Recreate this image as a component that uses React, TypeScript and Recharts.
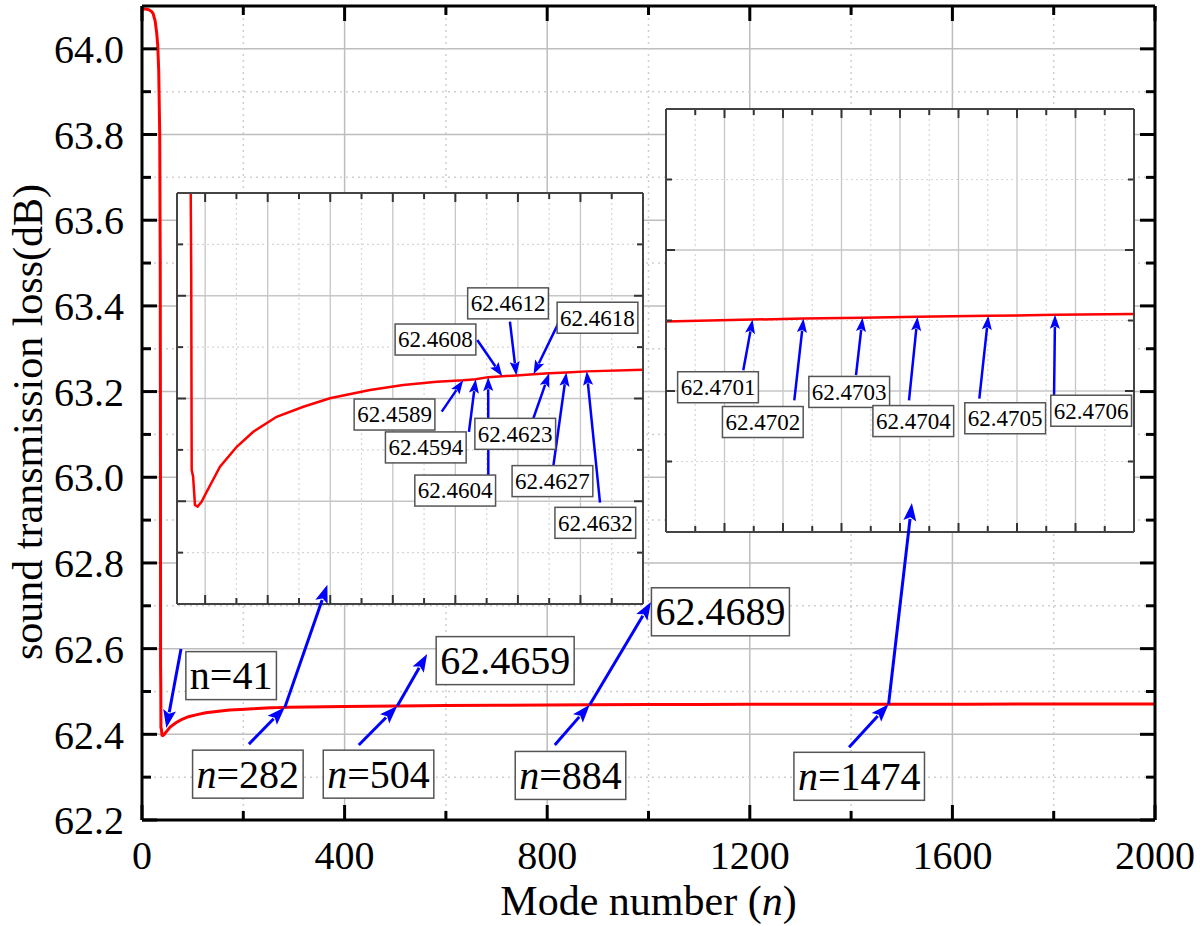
import React from 'react';
import { LineChart, Line, XAxis, YAxis, CartesianGrid, ReferenceLine, ReferenceDot } from 'recharts';

const SERIF = 'Liberation Serif, DejaVu Serif, serif';

// mode number n and sound transmission loss (dB)
const modeNumber = [
  1, 8, 14, 19, 22, 26, 29, 31, 33, 35, 36, 36.5, 36.7, 37.1, 37.4, 38.3, 39.5, 41.2, 43.8, 47,
  55.5, 66.2, 76.8, 91.7, 108.8, 125.8, 151.4, 172.7, 194.1, 211, 219, 227, 236, 245, 256, 266,
  277, 290, 326, 400, 504, 600, 700, 800, 884, 1000, 1100, 1200, 1348, 1435, 1536, 1630, 1751,
  1865, 2000,
];
const transmissionLoss = [
  64.093, 64.093, 64.091, 64.087, 64.082, 64.065, 64.037, 64.01, 63.95, 63.8, 63.5, 63.0, 62.56,
  62.51, 62.4152, 62.412, 62.3982, 62.3974, 62.3998, 62.4046, 62.4168, 62.4265, 62.4338, 62.4411,
  62.446, 62.4501, 62.4541, 62.4566, 62.4582, 62.4589, 62.4594, 62.4604, 62.4608, 62.4612,
  62.4618, 62.4623, 62.4627, 62.4632, 62.464, 62.4649, 62.4659, 62.467, 62.4678, 62.4684,
  62.4689, 62.4694, 62.4697, 62.4699, 62.4701, 62.4702, 62.4703, 62.4704, 62.4705, 62.4706,
  62.4707,
];
const curve = modeNumber.map((n, i) => ({ n, loss: transmissionLoss[i] }));

// main axes
const xTicks = [0, 400, 800, 1200, 1600, 2000];
const xMinorTicks = [200, 600, 1000, 1400, 1800];
const yTicks = [62.2, 62.4, 62.6, 62.8, 63.0, 63.2, 63.4, 63.6, 63.8, 64.0];
const yMinorTicks = [62.3, 62.5, 62.7, 62.9, 63.1, 63.3, 63.5, 63.7, 63.9];

// left inset (zoom on the dip)
const leftXDomain = [28, 326];
const leftYDomain = [62.35, 62.55];
const leftXTicks = [46, 86, 126, 166, 206, 246, 286];
const leftXMinor = [66, 106, 146, 186, 226, 266, 306];
const leftYTicks = [62.4, 62.45, 62.5];
const leftYMinor = [62.375, 62.425, 62.475, 62.525];

// right inset (zoom on the tail)
const rightXDomain = [1200, 2000];
const rightYDomain = [62.4475, 62.4925];
const rightXTicks = [1300, 1400, 1500, 1600, 1700, 1800, 1900];
const rightXMinor = [1250, 1350, 1450, 1550, 1650, 1750, 1850, 1950];
const rightYTicks = [62.4625, 62.4775];
const rightYMinor = [62.455, 62.47, 62.485];

// annotations, in data units
const mainBoxes = [
  { text: 'n=41', n: 176, v: 62.537, italic: false },
  { text: 'n=282', n: 209, v: 62.307, italic: true },
  { text: 'n=504', n: 467, v: 62.307, italic: true },
  { text: 'n=884', n: 846, v: 62.304, italic: true },
  { text: 'n=1474', n: 1416, v: 62.302, italic: true },
  { text: '62.4659', n: 717, v: 62.572, italic: false },
  { text: '62.4689', n: 1142, v: 62.686, italic: false },
];
const mainArrows = [
  { from: [77, 62.599], to: [48, 62.415] },
  { from: [211, 62.377], to: [282, 62.4629] },
  { from: [282, 62.4629], to: [366, 62.749] },
  { from: [428, 62.375], to: [504, 62.4659] },
  { from: [504, 62.4659], to: [563, 62.5875] },
  { from: [815, 62.375], to: [884, 62.4689] },
  { from: [884, 62.4689], to: [1005, 62.709] },
  { from: [1396, 62.37], to: [1474, 62.4702] },
  { from: [1474, 62.4702], to: [1520, 62.94] },
];

const leftBoxes = [
  { text: '62.4612', n: 239.7, v: 62.4963 },
  { text: '62.4618', n: 296.9, v: 62.4893 },
  { text: '62.4608', n: 193.3, v: 62.4787 },
  { text: '62.4589', n: 167.1, v: 62.4422 },
  { text: '62.4594', n: 187.1, v: 62.4262 },
  { text: '62.4623', n: 244.3, v: 62.4328 },
  { text: '62.4604', n: 205.9, v: 62.4052 },
  { text: '62.4627', n: 268.1, v: 62.4098 },
  { text: '62.4632', n: 295.5, v: 62.3895 },
];
const leftArrows = [
  { from: [220.0, 62.4785], to: [236, 62.4608] },
  { from: [240.9, 62.4874], to: [245, 62.4612] },
  { from: [273.4, 62.489], to: [256, 62.4618] },
  { from: [197.3, 62.4436], to: [211, 62.4589] },
  { from: [214.7, 62.4338], to: [219, 62.4594] },
  { from: [227.1, 62.4128], to: [227, 62.4604] },
  { from: [255.9, 62.4404], to: [266, 62.4623] },
  { from: [268.6, 62.4168], to: [277, 62.4627] },
  { from: [298.5, 62.3993], to: [290, 62.4632] },
];

const rightBoxes = [
  { text: '62.4701', n: 1288.9, v: 62.4629 },
  { text: '62.4702', n: 1365.5, v: 62.4592 },
  { text: '62.4703', n: 1513.2, v: 62.4624 },
  { text: '62.4704', n: 1622.7, v: 62.4593 },
  { text: '62.4705', n: 1779.8, v: 62.4596 },
  { text: '62.4706', n: 1926.8, v: 62.4604 },
];
const rightArrows = [
  { from: [1332.1, 62.4647], to: [1348, 62.4701] },
  { from: [1419.3, 62.4615], to: [1435, 62.4702] },
  { from: [1524.8, 62.4642], to: [1536, 62.4703] },
  { from: [1615.4, 62.4615], to: [1630, 62.4704] },
  { from: [1735.6, 62.4617], to: [1751, 62.4705] },
  { from: [1863.3, 62.4617], to: [1865, 62.4706] },
];

const CHAR_EM: Record<string, number> = { '.': 0.25, '=': 0.564 };
const textEm = (s: string) => [...s].reduce((a, c) => a + (CHAR_EM[c] ?? 0.5), 0);

const boxShape = (text: string, fontSize: number, italic: boolean, boxH: number, padX: number) => (p: any) => {
  const { cx, cy } = p;
  const w = textEm(text) * fontSize + 2 * padX;
  const content = italic ? (
    <>
      <tspan fontStyle="italic">n</tspan>
      {text.slice(1)}
    </>
  ) : (
    text
  );
  return (
    <g>
      <rect x={cx - w / 2} y={cy - boxH / 2} width={w} height={boxH} fill="#fff" stroke="#555" strokeWidth={1.5} />
      <text x={cx} y={cy} dy="0.34em" textAnchor="middle" fontSize={fontSize} fontFamily={SERIF} style={{ fontFamily: SERIF }} fill="#000">
        {content}
      </text>
    </g>
  );
};

const arrowShape = (head: number, width: number) => (p: any) => {
  const { x1, y1, x2, y2 } = p;
  const dx = x2 - x1;
  const dy = y2 - y1;
  const len = Math.hypot(dx, dy) || 1;
  const ux = dx / len;
  const uy = dy / len;
  const bx = x2 - ux * head;
  const by = y2 - uy * head;
  const px = -uy * head * 0.36;
  const py = ux * head * 0.36;
  return (
    <g>
      <line x1={x1} y1={y1} x2={bx + ux * 2} y2={by + uy * 2} stroke="#0000ff" strokeWidth={width} />
      <polygon points={`${x2},${y2} ${bx + px},${by + py} ${bx + ux * head * 0.2},${by + uy * head * 0.2} ${bx - px},${by - py}`} fill="#0000ff" />
    </g>
  );
};

type FrameSpec = {
  xDomain: number[];
  yDomain: number[];
  xMajor: number[];
  xMinor: number[];
  yMajor: number[];
  yMinor: number[];
  major: number;
  minor: number;
  tickColor: string;
  tickWidth: number;
  border: string;
  borderWidth: number;
};

const noLabel = () => <g />;

// mirrored axes draw the inward ticks and the box on all four sides
function frameAxes(f: FrameSpec) {
  const tl = { stroke: f.tickColor, strokeWidth: f.tickWidth };
  const al = { stroke: f.border, strokeWidth: f.borderWidth };
  const base = { type: 'number' as const, allowDataOverflow: true, mirror: true, tick: noLabel, interval: 0 as const, tickLine: tl };
  return [
    <XAxis key="xb" xAxisId="xb" dataKey="n" {...base} domain={f.xDomain} ticks={f.xMajor} height={1} tickSize={f.major} axisLine={al} />,
    <XAxis key="xbm" xAxisId="xbm" dataKey="n" {...base} domain={f.xDomain} ticks={f.xMinor} height={1} tickSize={f.minor} axisLine={false} />,
    <XAxis key="xt" xAxisId="xt" orientation="top" dataKey="n" {...base} domain={f.xDomain} ticks={f.xMajor} height={1} tickSize={f.major} axisLine={al} />,
    <XAxis key="xtm" xAxisId="xtm" orientation="top" dataKey="n" {...base} domain={f.xDomain} ticks={f.xMinor} height={1} tickSize={f.minor} axisLine={false} />,
    <YAxis key="yl" yAxisId="yl" {...base} domain={f.yDomain} ticks={f.yMajor} width={1} tickSize={f.major} axisLine={al} />,
    <YAxis key="ylm" yAxisId="ylm" {...base} domain={f.yDomain} ticks={f.yMinor} width={1} tickSize={f.minor} axisLine={false} />,
    <YAxis key="yr" yAxisId="yr" orientation="right" {...base} domain={f.yDomain} ticks={f.yMajor} width={1} tickSize={f.major} axisLine={al} />,
    <YAxis key="yrm" yAxisId="yrm" orientation="right" {...base} domain={f.yDomain} ticks={f.yMinor} width={1} tickSize={f.minor} axisLine={false} />,
  ];
}

const xTitle = (props: any) => {
  const vb = props?.viewBox ?? { x: 142, y: 820, width: 1013, height: 106 };
  return (
    <text x={vb.x + vb.width / 2} y={vb.y + 95} textAnchor="middle" fontSize={42} fontFamily={SERIF} style={{ fontFamily: SERIF }} fill="#000">
      Mode number (<tspan fontStyle="italic">n</tspan>)
    </text>
  );
};

const yTitle = (props: any) => {
  const vb = props?.viewBox ?? { x: 0, y: 6, width: 142, height: 814 };
  const bx = vb.x + 42;
  const cy = vb.y + 416;
  return (
    <text x={bx} y={cy} transform={`rotate(-90 ${bx} ${cy})`} textAnchor="middle" fontSize={42} fontFamily={SERIF} style={{ fontFamily: SERIF }} fill="#000">
      sound transmission loss(dB)
    </text>
  );
};

function MainChart() {
  const spec: FrameSpec = {
    xDomain: [0, 2000],
    yDomain: [62.2, 64.1],
    xMajor: xTicks,
    xMinor: xMinorTicks,
    yMajor: yTicks,
    yMinor: yMinorTicks,
    major: 15,
    minor: 8,
    tickColor: '#000',
    tickWidth: 3,
    border: '#000',
    borderWidth: 3,
  };
  const tickStyle = { fontSize: 40, fontFamily: SERIF, fill: '#000', style: { fontFamily: SERIF } };
  return (
    <LineChart width={1200} height={926} data={curve} margin={{ top: 6, right: 45, bottom: 0, left: 0 }}>
      <CartesianGrid xAxisId="xb" yAxisId="yl" stroke="#bdbdbd" strokeWidth={1.5} />
      <CartesianGrid xAxisId="xbm" yAxisId="ylm" stroke="#cfcfcf" strokeWidth={1.5} strokeDasharray="2 4" />
      <XAxis
        xAxisId="xLab"
        dataKey="n"
        type="number"
        domain={[0, 2000]}
        allowDataOverflow
        ticks={xTicks}
        interval={0}
        height={106}
        tickLine={false}
        axisLine={false}
        tickSize={6}
        tickMargin={15}
        tick={tickStyle}
        label={{ content: xTitle }}
      />
      <YAxis
        yAxisId="yLab"
        type="number"
        domain={[62.2, 64.1]}
        allowDataOverflow
        ticks={yTicks}
        interval={0}
        width={142}
        tickLine={false}
        axisLine={false}
        tickSize={6}
        tickMargin={12}
        tick={tickStyle}
        tickFormatter={(v: number) => v.toFixed(1)}
        label={{ content: yTitle }}
      />
      {frameAxes(spec)}
      <Line xAxisId="xb" yAxisId="yl" type="linear" dataKey="loss" stroke="#ff0000" strokeWidth={3} dot={false} isAnimationActive={false} />
    </LineChart>
  );
}

type Note = { text: string; n: number; v: number; italic?: boolean };
type Arrow = { from: number[]; to: number[] };

function annotations(boxes: Note[], arrows: Arrow[], fontSize: number, boxH: number, pad: number, head: number, width: number) {
  return [
    ...boxes.map((b, i) => (
      <ReferenceDot
        key={`b${i}`}
        xAxisId="xb"
        yAxisId="yl"
        x={b.n}
        y={b.v}
        r={1}
        ifOverflow="visible"
        shape={boxShape(b.text, fontSize, !!b.italic, boxH, pad)}
      />
    )),
    ...arrows.map((a, i) => (
      <ReferenceLine
        key={`a${i}`}
        xAxisId="xb"
        yAxisId="yl"
        segment={[
          { x: a.from[0], y: a.from[1] },
          { x: a.to[0], y: a.to[1] },
        ]}
        ifOverflow="visible"
        shape={arrowShape(head, width)}
      />
    )),
  ];
}

function Inset(props: { left: number; top: number; width: number; height: number; spec: FrameSpec; boxes: Note[]; arrows: Arrow[] }) {
  const { left, top, width, height, spec, boxes, arrows } = props;
  return (
    <div style={{ position: 'absolute', left, top }}>
      <LineChart width={width} height={height} data={curve} margin={{ top: 5, right: 5, bottom: 5, left: 5 }}>
        <CartesianGrid xAxisId="xb" yAxisId="yl" fill="#fff" fillOpacity={1} stroke="#c6c6c6" strokeWidth={1.3} />
        <CartesianGrid xAxisId="xbm" yAxisId="ylm" stroke="#d6d6d6" strokeWidth={1.2} strokeDasharray="2 3" />
        {frameAxes(spec)}
        <Line xAxisId="xb" yAxisId="yl" type="linear" dataKey="loss" stroke="#ff0000" strokeWidth={2.5} dot={false} isAnimationActive={false} />
        {annotations(boxes, arrows, 23, 31, 3, 14, 2.5)}
      </LineChart>
    </div>
  );
}

function Overlay() {
  return (
    <div style={{ position: 'absolute', left: 0, top: 0, pointerEvents: 'none' }}>
      <LineChart width={1200} height={926} data={curve} margin={{ top: 6, right: 45, bottom: 106, left: 142 }}>
        <XAxis xAxisId="xb" dataKey="n" type="number" domain={[0, 2000]} allowDataOverflow hide />
        <YAxis yAxisId="yl" type="number" domain={[62.2, 64.1]} allowDataOverflow hide />
        <Line xAxisId="xb" yAxisId="yl" dataKey="loss" stroke="transparent" dot={false} isAnimationActive={false} />
        {annotations(mainBoxes, mainArrows, 40, 48, 4, 18, 3)}
      </LineChart>
    </div>
  );
}

export default function App() {
  const insetBase = { major: 9, minor: 5, tickColor: '#333', tickWidth: 2, border: '#444', borderWidth: 2 };
  const leftSpec: FrameSpec = {
    ...insetBase,
    xDomain: leftXDomain,
    yDomain: leftYDomain,
    xMajor: leftXTicks,
    xMinor: leftXMinor,
    yMajor: leftYTicks,
    yMinor: leftYMinor,
  };
  const rightSpec: FrameSpec = {
    ...insetBase,
    xDomain: rightXDomain,
    yDomain: rightYDomain,
    xMajor: rightXTicks,
    xMinor: rightXMinor,
    yMajor: rightYTicks,
    yMinor: rightYMinor,
  };
  return (
    <div style={{ position: 'absolute', left: 0, top: 0, width: 1200, height: 926, background: '#fff', fontFamily: SERIF }}>
      <div style={{ position: 'absolute', left: 0, top: 0 }}>
        <MainChart />
      </div>
      <Inset left={172} top={188} width={476} height={421} spec={leftSpec} boxes={leftBoxes} arrows={leftArrows} />
      <Inset left={661} top={104} width={478} height={433} spec={rightSpec} boxes={rightBoxes} arrows={rightArrows} />
      <Overlay />
    </div>
  );
}
